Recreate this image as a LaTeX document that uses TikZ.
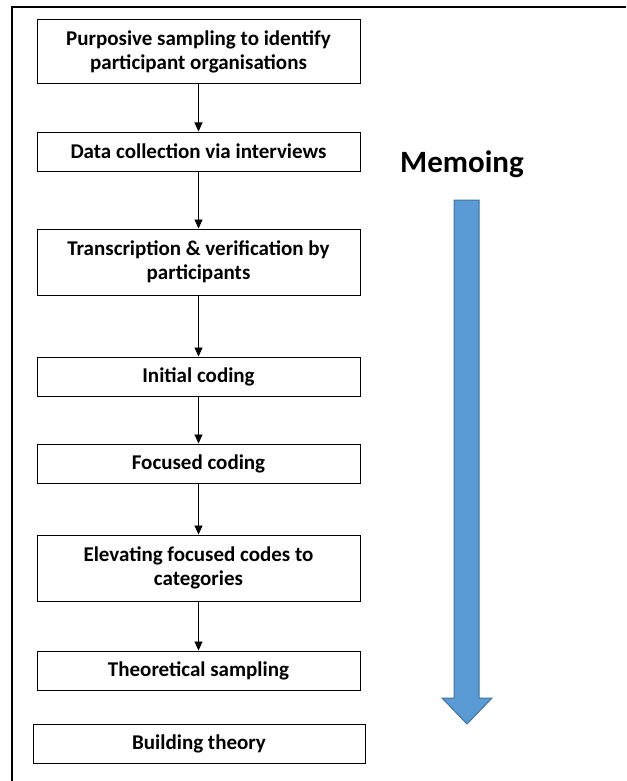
\documentclass[tikz,border=0pt]{standalone}
\usepackage{fontspec}
\setmainfont{Carlito}
\usetikzlibrary{arrows.meta}
\definecolor{memoblue}{HTML}{5B9BD5}
\definecolor{memoedge}{HTML}{41719C}
\begin{document}
\begin{tikzpicture}[x=1pt,y=-1pt,
  stepbox/.style={draw=black, line width=1pt, rectangle, inner sep=0pt, align=center,
    minimum width=323pt, font=\fontsize{21}{24}\selectfont\bfseries},
  flow/.style={draw=black, line width=0.9pt, -{Triangle[length=9pt,width=8pt]}},
]
\useasboundingbox (0,0) rectangle (626,781);
% frame (only top and left edges are visible)
\coordinate (fbl) at (12,781);
\coordinate (ftl) at (12,7);
\coordinate (ftr) at (626,7);
\draw[line width=2pt] (fbl) -- (ftl) -- (ftr);

\node[stepbox, minimum height=64pt] (b1) at (198.5,52) {Purposive sampling to identify\\participant organisations};
\node[stepbox, minimum height=39pt] (b2) at (198.5,151.5) {Data collection via interviews};
\node[stepbox, minimum height=66pt] (b3) at (198.5,262) {Transcription \& verification by\\participants};
\node[stepbox, minimum height=39pt] (b4) at (198.5,376.5) {Initial coding};
\node[stepbox, minimum height=39pt] (b5) at (198.5,463.5) {Focused coding};
\node[stepbox, minimum height=66pt] (b6) at (198.5,568) {Elevating focused codes to\\categories};
\node[stepbox, minimum height=39pt] (b7) at (198.5,670.5) {Theoretical sampling};
\node[stepbox, minimum height=39pt, minimum width=332pt] (b8) at (199,743.5) {Building theory};

\draw[flow] (b1) -- (b2);
\draw[flow] (b2) -- (b3);
\draw[flow] (b3) -- (b4);
\draw[flow] (b4) -- (b5);
\draw[flow] (b5) -- (b6);
\draw[flow] (b6) -- (b7);

\node[anchor=base, inner sep=0pt, font=\fontsize{31}{36}\selectfont\bfseries] (memo) at (462,172) {Memoing};

\filldraw[fill=memoblue, draw=memoedge, line width=1pt]
  (454,200) -- (479,200) -- (479,698) -- (492,698) -- (467,724) -- (442,698) -- (454,698) -- cycle;
\end{tikzpicture}
\end{document}
